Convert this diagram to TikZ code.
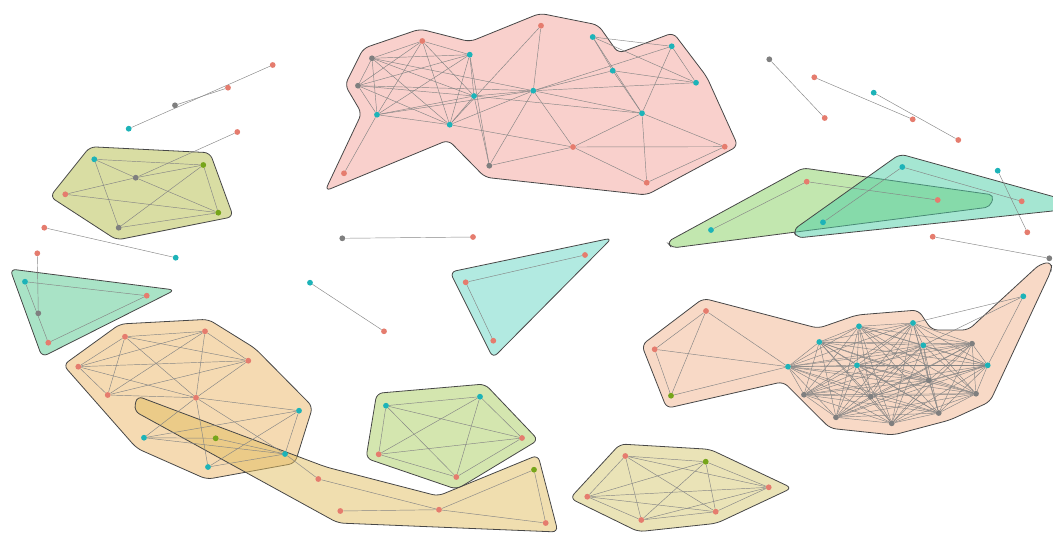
\documentclass[tikz,border=0pt]{standalone}
\pgfdeclarelayer{hl}
\pgfdeclarelayer{el}
\pgfsetlayers{hl,el,main}
\definecolor{cR}{HTML}{E57C6E}
\definecolor{cC}{HTML}{1DB3B8}
\definecolor{cG}{HTML}{7F7F7F}
\definecolor{cV}{HTML}{76A51A}
\definecolor{fPink}{HTML}{F9D0CC}
\definecolor{fOliveTL}{HTML}{D9DDA3}
\definecolor{fOliveBR}{HTML}{EAE3B7}
\definecolor{fGreenP}{HTML}{D4E6AF}
\definecolor{fCyanT}{HTML}{B2EAE1}
\definecolor{fGreenT}{HTML}{A9E3C6}
\definecolor{fOrHex}{HTML}{EBB565}
\definecolor{fElong}{HTML}{E1BD5F}
\definecolor{fLG}{HTML}{85D060}
\definecolor{fTeal}{HTML}{4BCDA5}
\definecolor{fOrR}{HTML}{F8D9C6}
\tikzset{
 v/.style={circle,inner sep=0pt,minimum size=5.8pt,draw=none},
 vr/.style={v,fill=cR}, vc/.style={v,fill=cC}, vg/.style={v,fill=cG}, vv/.style={v,fill=cV},
 ed/.style={draw=black!48,line width=0.45pt},
 hull/.style={draw=black!72,line width=0.8pt,rounded corners=6pt},
 thull/.style={hull,fill opacity=0.5},
}
\begin{document}
\begin{tikzpicture}[x=1pt,y=-1pt]
\useasboundingbox (0,0) rectangle (1053,533);
% ---------- nodes ----------
% top-left singletons
\node[vr] (a1) at (272.7,65) {};
\node[vr] (a2) at (228,87.7) {};
\node[vg] (a3) at (175,105.3) {};
\node[vc] (a4) at (128.7,128.7) {};
\node[vr] (a5) at (237.3,132) {};
% top-left pentagon
\node[vc] (p1) at (94.3,159.3) {};
\node[vg] (p2) at (135.7,177.7) {};
\node[vv] (p3) at (203.3,165) {};
\node[vr] (p4) at (65.3,194.3) {};
\node[vv] (p5) at (218.3,212.7) {};
\node[vg] (p6) at (118.7,227.7) {};
\node[vr] (b1) at (44.3,227.7) {};
\node[vc] (b2) at (175.7,257.7) {};
% left green triangle
\node[vr] (t1) at (37.3,253.3) {};
\node[vc] (t2) at (25,281.7) {};
\node[vr] (t3) at (146.7,295.7) {};
\node[vg] (t4) at (38.3,313.3) {};
\node[vr] (t5) at (48.3,342.7) {};
% orange hexagon
\node[vr] (o1) at (125,336.7) {};
\node[vr] (o2) at (205,331.3) {};
\node[vr] (o3) at (78.3,366.7) {};
\node[vr] (o4) at (248.3,360.7) {};
\node[vr] (o5) at (107.7,395) {};
\node[vr] (o6) at (196,397.7) {};
\node[vc] (o7) at (299,410.7) {};
\node[vc] (o8) at (144,437.7) {};
\node[vv] (o9) at (215.7,438.3) {};
\node[vc] (o10) at (285,454) {};
\node[vc] (o11) at (208,467) {};
% elongated
\node[vr] (e1) at (318.3,479) {};
\node[vr] (e2) at (340.3,511) {};
\node[vr] (e3) at (439,509.7) {};
\node[vv] (e4) at (534,469.7) {};
\node[vr] (e5) at (545.7,523) {};
% green pentagon
\node[vc] (g1) at (386,405.7) {};
\node[vc] (g2) at (480,396.7) {};
\node[vr] (g3) at (522,438) {};
\node[vr] (g4) at (378.7,454.3) {};
\node[vr] (g5) at (456.3,477) {};
% cyan triangle
\node[vr] (c1) at (585,255) {};
\node[vr] (c2) at (465.7,282.3) {};
\node[vr] (c3) at (493.3,340.7) {};
% middle singletons
\node[vg] (d1) at (342.3,238.3) {};
\node[vr] (d2) at (473,237) {};
\node[vc] (d3) at (310,282.7) {};
\node[vr] (d4) at (384,331.3) {};
% bottom-right hexagon
\node[vr] (h1) at (625.3,456) {};
\node[vv] (h2) at (705.7,461.7) {};
\node[vr] (h3) at (768.7,487.3) {};
\node[vr] (h4) at (587.3,496.7) {};
\node[vr] (h5) at (641.3,520) {};
\node[vr] (h6) at (715.7,511.7) {};
% pink group
\node[vr] (k1) at (541,25.7) {};
\node[vr] (k2) at (422.3,41) {};
\node[vc] (k3) at (592.7,37) {};
\node[vc] (k4) at (671.7,46.3) {};
\node[vc] (k5) at (469.7,54.7) {};
\node[vg] (k6) at (372,58.3) {};
\node[vc] (k7) at (612.7,70.7) {};
\node[vc] (k8) at (696,82.7) {};
\node[vg] (k9) at (358,85.7) {};
\node[vc] (k10) at (474,96) {};
\node[vc] (k11) at (533.3,90.7) {};
\node[vc] (k12) at (377,114.7) {};
\node[vc] (k13) at (642,113.3) {};
\node[vc] (k14) at (449.7,124.7) {};
\node[vr] (k15) at (573,147) {};
\node[vr] (k16) at (724.7,146.7) {};
\node[vg] (k17) at (489.3,165.7) {};
\node[vr] (k18) at (344,173.3) {};
\node[vr] (k19) at (646.7,182.7) {};
% top-right singletons
\node[vg] (m1) at (769.3,59.3) {};
\node[vr] (m2) at (824.7,118) {};
\node[vr] (m3) at (814.3,77.3) {};
\node[vr] (m4) at (912.7,119.3) {};
\node[vc] (m5) at (873.7,92.7) {};
\node[vr] (m6) at (958.3,140) {};
% light green triangle
\node[vc] (l1) at (711,230) {};
\node[vr] (l2) at (806.7,181.7) {};
\node[vr] (l3) at (937.7,200) {};
% teal triangle
\node[vc] (n1) at (902.3,167) {};
\node[vr] (n2) at (1021.7,201.3) {};
\node[vc] (n3) at (823,222.3) {};
\node[vc] (n4) at (997.7,170.7) {};
\node[vr] (n5) at (1027.3,232.3) {};
\node[vr] (n6) at (932.7,236.7) {};
\node[vg] (n7) at (1049.3,258.3) {};
% right orange group
\node[vc] (r1) at (1023.3,296.3) {};
\node[vr] (r2) at (706,311) {};
\node[vr] (r3) at (654.7,349.3) {};
\node[vv] (r4) at (671,395.7) {};
\node[vc] (q1) at (788,366.7) {};
\node[vc] (q2) at (819.3,342) {};
\node[vc] (q3) at (859,326.3) {};
\node[vc] (q4) at (913,323) {};
\node[vc] (q5) at (923.3,345.3) {};
\node[vc] (q6) at (857,365.3) {};
\node[vg] (q7) at (972,343.7) {};
\node[vc] (q8) at (987.7,365.3) {};
\node[vg] (q9) at (928.7,380.3) {};
\node[vg] (q10) at (804,394.7) {};
\node[vg] (q11) at (870.7,396.7) {};
\node[vg] (q12) at (976,393.7) {};
\node[vg] (q13) at (836,417.3) {};
\node[vg] (q14) at (891.7,423.3) {};
\node[vg] (q15) at (938.7,413) {};
% ---------- hulls ----------
\begin{pgfonlayer}{hl}
\draw[hull,fill=fPink] (345,85) -- (363.3,48.3) -- (420,29) -- (470,41.7) -- (540,13.3) -- (598.3,25) -- (618.3,53.3) -- (673.3,32.7) -- (706.7,76.7) -- (738,146) -- (646.7,195) -- (485,177.3) -- (448.3,140) -- (325,191) -- (361.7,113.3) -- cycle;
\draw[hull,fill=fOliveTL] (90,146.7) -- (210,152.7) -- (233.3,216.7) -- (116.7,240) -- (50,196.7) -- cycle;
\draw[hull,fill=fGreenT] (10,269) -- (175,290) -- (42,357) -- cycle;
\draw[hull,fill=fCyanT] (450,272) -- (612,238) -- (493,358) -- cycle;
\draw[hull,fill=fGreenP] (376.7,393.3) -- (485,384) -- (538.3,440) -- (456.7,489.3) -- (366,458.3) -- cycle;
\draw[hull,fill=fOliveBR] (620,444) -- (710,449.3) -- (792,488) -- (716.7,523.3) -- (638.3,531.7) -- (570,498.3) -- cycle;
\draw[thull,fill=fOrHex] (120,324) -- (208.3,319.3) -- (255,348.3) -- (312.7,406.7) -- (295,463.3) -- (206.7,479.3) -- (136.7,448.3) -- (63.3,365) -- cycle;
\draw[thull,fill=fElong] (326,467) -- (438,496) -- (538,455) -- (558,532) -- (338,523) -- (134,411) -- (137,396) -- cycle;
\draw[thull,fill=fLG,rounded corners=5pt] (803,168) -- (994,195) -- (990,207) -- (672,248) -- (667,242) -- cycle;
\draw[thull,fill=fTeal] (900,154) -- (1062,199) -- (1062,210) -- (797,238) -- (793,230) -- cycle;
\draw[hull,fill=fOrR] (641.7,345) -- (703.3,298.3) -- (818.3,328.3) -- (856.7,315) -- (918.3,310) -- (931.7,330) -- (968.3,330) -- (1040,264) -- (1052,262) -- (1051,271) -- (990,401.7) -- (950,420) -- (893.3,435) -- (830,428.3) -- (783.3,381.7) -- (666.7,408.3) -- cycle;
\end{pgfonlayer}
% ---------- edges ----------
\begin{pgfonlayer}{el}
\foreach \u/\w in {a1/a4,a2/a3,a5/p2,
 p1/p3,p1/p2,p2/p5,p4/p2,p2/p3,p1/p6,p4/p5,p6/p3,p6/p5,p3/p5,
 b1/b2,t1/t4,t2/t3,t2/t5,t3/t5,
 o1/o2,o1/o3,o1/o4,o1/o5,o1/o6,o2/o3,o2/o4,o2/o5,o2/o6,o3/o4,o3/o5,o3/o6,o4/o5,o4/o6,o5/o6,
 o6/o7,o6/o8,o6/o11,o6/o10,o8/o7,o8/o10,o11/o7,o11/o10,o9/o10,o7/o10,o10/e1,o9/o8,
 e1/e3,e2/e3,e3/e4,e3/e5,e4/e5,
 g1/g2,g1/g3,g1/g4,g1/g5,g2/g3,g2/g4,g2/g5,g3/g4,g3/g5,g4/g5,
 c1/c2,c2/c3,d1/d2,d3/d4,
 h1/h2,h1/h3,h1/h4,h1/h5,h1/h6,h2/h3,h2/h4,h2/h5,h2/h6,h3/h4,h3/h5,h3/h6,h4/h5,h4/h6,h5/h6,
 k6/k2,k6/k5,k6/k9,k6/k10,k6/k12,k6/k14,k6/k11,
 k9/k2,k9/k5,k9/k10,k9/k12,k9/k11,k9/k14,
 k2/k12,k2/k14,k2/k10,k2/k5,
 k12/k5,k12/k10,k12/k11,k12/k14,k12/k18,
 k5/k10,k5/k14,k5/k17,
 k10/k14,k10/k11,k10/k17,k10/k13,
 k14/k11,k14/k15,k14/k1,
 k17/k11,k17/k15,
 k11/k1,k11/k15,k11/k13,k11/k8,k11/k4,k11/k7,
 k3/k4,k3/k13,k3/k8,k3/k7,
 k4/k8,k4/k13,k7/k8,k7/k13,
 k13/k15,k13/k16,k13/k19,k15/k16,k15/k19,k19/k16,
 m1/m2,m3/m4,m5/m6,l1/l2,l2/l3,n1/n2,n1/n3,n4/n5,n6/n7,
 r2/r3,r2/r4,r2/q1,r3/q1,r4/q1,r3/r4,r1/q4,r1/q5,r1/q8}
 {\draw[ed] (\u) -- (\w);}
\foreach \i in {1,...,14}{
 \pgfmathtruncatemacro\s{\i+1}
 \foreach \j in {\s,...,15}{\draw[ed] (q\i) -- (q\j);}
}
\end{pgfonlayer}
\end{tikzpicture}
\end{document}
